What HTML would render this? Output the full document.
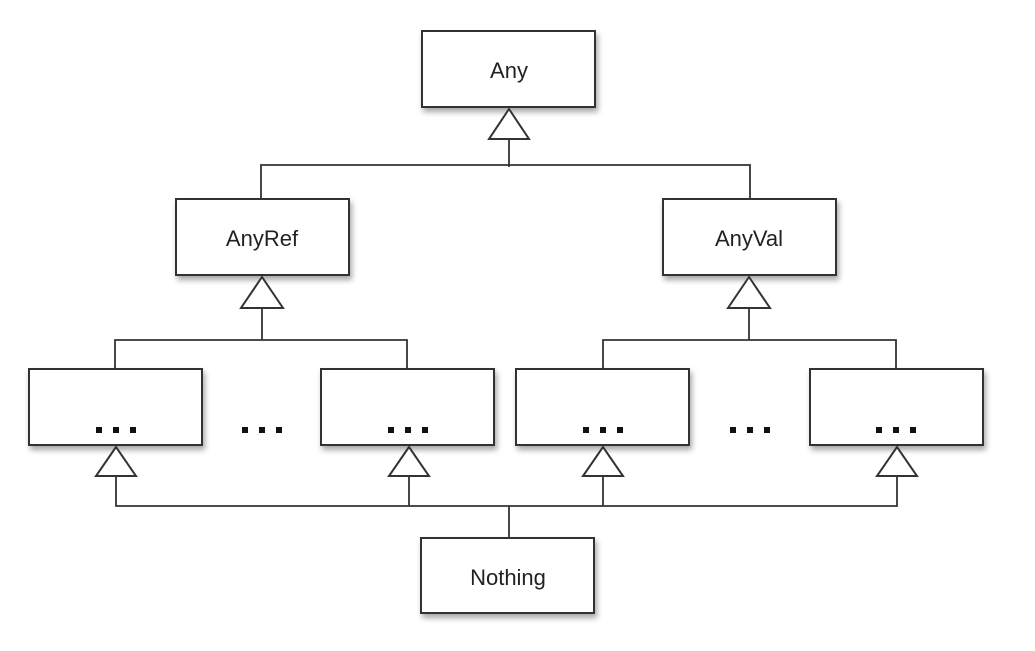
<!DOCTYPE html>
<html><head><style>
body{margin:0;background:#fff;}
svg{display:block}
text{font-family:"Liberation Sans",sans-serif;font-size:22px;fill:#222;text-anchor:middle}
.b{fill:#fff;stroke:#333;stroke-width:2;filter:url(#s)}
.l{stroke:#333;stroke-width:1.8;fill:none}
.t{fill:#fff;stroke:#333;stroke-width:2}
.d{fill:#111}
</style></head><body>
<svg width="1035" height="651" viewBox="0 0 1035 651">
<defs><filter id="s" x="-10%" y="-10%" width="125%" height="130%"><feDropShadow dx="2" dy="4" stdDeviation="3" flood-color="#000" flood-opacity="0.35"/></filter>
<g id="dots"><rect x="-20" y="-3" width="6" height="6"/><rect x="-3" y="-3" width="6" height="6"/><rect x="14" y="-3" width="6" height="6"/></g></defs>
<!-- lines -->
<path class="l" d="M509 140V167 M261 199V165H750V199"/>
<path class="l" d="M262 308V340 M115 369V340H407V369"/>
<path class="l" d="M749 308V340 M603 369V340H896V369"/>
<path class="l" d="M116 476V506H897V476 M409 476V506 M603 476V506 M509 506V538"/>
<!-- boxes -->
<rect class="b" x="422" y="31" width="173" height="76"/>
<rect class="b" x="176" y="199" width="173" height="76"/>
<rect class="b" x="663" y="199" width="173" height="76"/>
<rect class="b" x="29" y="369" width="173" height="76"/>
<rect class="b" x="321" y="369" width="173" height="76"/>
<rect class="b" x="516" y="369" width="173" height="76"/>
<rect class="b" x="810" y="369" width="173" height="76"/>
<rect class="b" x="421" y="538" width="173" height="75"/>
<!-- triangles -->
<polygon class="t" points="509,109 489,139 529,139"/>
<polygon class="t" points="262,277 241,308 283,308"/>
<polygon class="t" points="749,277 728,308 770,308"/>
<polygon class="t" points="116,447 96,476 136,476"/>
<polygon class="t" points="409,447 389,476 429,476"/>
<polygon class="t" points="603,447 583,476 623,476"/>
<polygon class="t" points="897,447 877,476 917,476"/>
<!-- text -->
<text x="509" y="78">Any</text>
<text x="262" y="246">AnyRef</text>
<text x="749" y="246">AnyVal</text>
<text x="508" y="585">Nothing</text>
<g class="d">
<use href="#dots" x="116" y="430"/><use href="#dots" x="262" y="430"/><use href="#dots" x="408" y="430"/>
<use href="#dots" x="603" y="430"/><use href="#dots" x="750" y="430"/><use href="#dots" x="896" y="430"/>
</g>
</svg>
</body></html>
